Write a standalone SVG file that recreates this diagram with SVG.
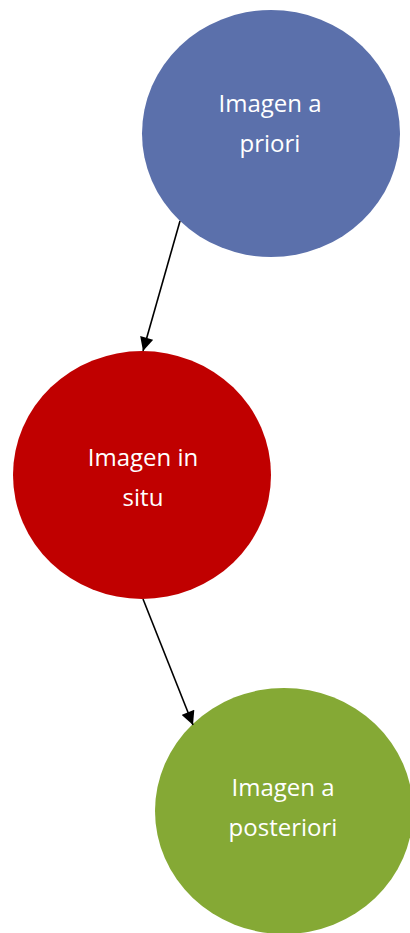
<svg xmlns="http://www.w3.org/2000/svg" width="410" height="933" viewBox="0 0 410 933">
<style>
.lbl{font-family:"Open Sans","Noto Sans",sans-serif;font-size:24px;fill:#fff;text-anchor:middle}
.edge{stroke:#000;stroke-width:1.6;fill:none}
</style>
<defs>
<marker id="ah" viewBox="0 0 10 10" refX="10" refY="5" markerWidth="9.5" markerHeight="8.5" markerUnits="strokeWidth" orient="auto">
<path d="M0,0 L10,5 L0,10 z" fill="#000"/>
</marker>
</defs>
<rect width="410" height="933" fill="#fff"/>
<g id="node-priori">
<ellipse cx="271" cy="133.5" rx="129" ry="123.5" fill="#5b70ab"/>
<text class="lbl" x="270" y="112">Imagen a</text>
<text class="lbl" x="270" y="152">priori</text>
</g>
<g id="node-insitu">
<ellipse cx="142" cy="475" rx="129" ry="124" fill="#c00000"/>
<text class="lbl" x="143" y="466">Imagen in</text>
<text class="lbl" x="143" y="506">situ</text>
</g>
<g id="node-posteriori">
<ellipse cx="284" cy="811" rx="129" ry="123" fill="#85a935"/>
<text class="lbl" x="283" y="796">Imagen a</text>
<text class="lbl" x="283" y="836">posteriori</text>
</g>
<g id="connectors">
<line class="edge" x1="180" y1="221" x2="143" y2="351" marker-end="url(#ah)"/>
<line class="edge" x1="143" y1="599" x2="193" y2="725" marker-end="url(#ah)"/>
</g>
</svg>
